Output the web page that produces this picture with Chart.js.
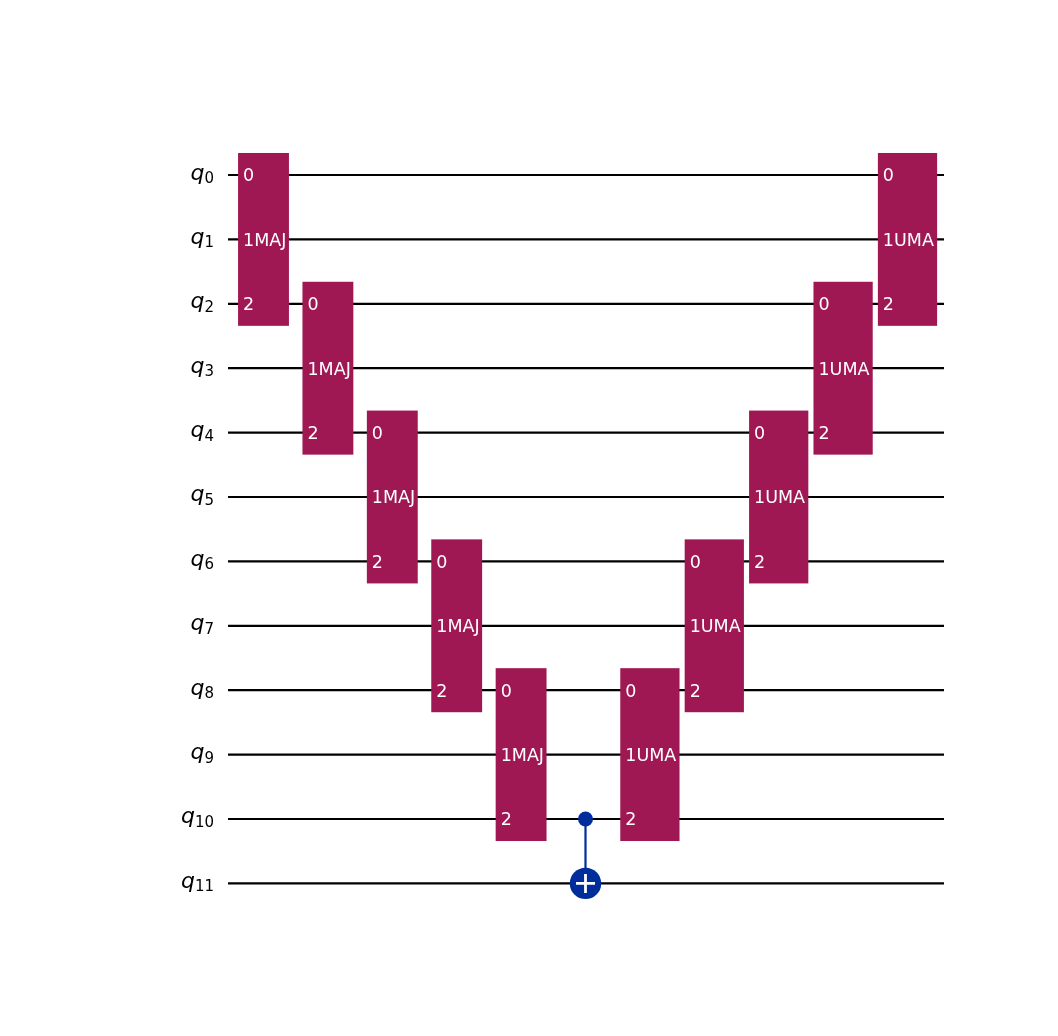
<!DOCTYPE html>
<html>
<head>
<meta charset="utf-8">
<script src="https://cdn.jsdelivr.net/npm/chart.js@4.4.0/dist/chart.umd.min.js"></script>
<style>
body { margin: 0; background: #fff; }
</style>
</head>
<body>
<canvas id="circuit" width="1058" height="1036"></canvas>
<script>
// circuit content
const qubitLabels = ['0', '1', '2', '3', '4', '5', '6', '7', '8', '9', '10', '11'];
const gateNames = ['MAJ', 'MAJ', 'MAJ', 'MAJ', 'MAJ', 'UMA', 'UMA', 'UMA', 'UMA', 'UMA'];
const gateColumns = [0, 1, 2, 3, 4, 6, 7, 8, 9, 10];
const gateFirstQubit = [0, 2, 4, 6, 8, 8, 6, 4, 2, 0];
const gatePorts = ['0', '1', '2'];
const cxColumn = 5;
const cxControl = 10;
const cxTarget = 11;

// look
const gateColor = '#9f1853';
const cxColor = '#002d9c';
const boxWidth = { MAJ: 0.79, UMA: 0.92 };
const boxPad = 0.342;
const wireStart = -0.551;
const wireEnd = 10.567;
const labelRight = -0.769;

const wireSets = qubitLabels.map((lbl, i) => ({
    data: [{ x: wireStart, y: i }, { x: wireEnd, y: i }],
    showLine: true,
    borderColor: '#000',
    borderWidth: 2.2,
    pointRadius: 0,
    order: 10
}));

const cxSets = [
    {
        data: [{ x: cxColumn, y: cxControl }, { x: cxColumn, y: cxTarget }],
        showLine: true,
        borderColor: cxColor,
        borderWidth: 2.2,
        pointRadius: 0,
        order: 5
    },
    {
        data: [{ x: cxColumn, y: cxControl }],
        pointRadius: 7.5,
        backgroundColor: cxColor,
        borderWidth: 0,
        order: 4
    },
    {
        data: [{ x: cxColumn, y: cxTarget }],
        pointRadius: 15.7,
        backgroundColor: cxColor,
        borderWidth: 0,
        order: 3
    },
    {
        data: [{ x: cxColumn, y: cxTarget }],
        pointStyle: 'cross',
        pointRadius: 9.5,
        borderColor: '#fff',
        borderWidth: 2.8,
        order: 1
    }
];

const circuitPlugin = {
    id: 'circuit',
    afterDatasetsDraw(chart) {
        const ctx = chart.ctx;
        const xs = chart.scales.x;
        const ys = chart.scales.y;
        ctx.save();

        // gate boxes
        gateNames.forEach((name, i) => {
            const col = gateColumns[i];
            const q = gateFirstQubit[i];
            const half = boxWidth[name] / 2;
            const left = xs.getPixelForValue(col - half);
            const right = xs.getPixelForValue(col + half);
            const top = ys.getPixelForValue(q - boxPad);
            const bottom = ys.getPixelForValue(q + 2 + boxPad);
            ctx.fillStyle = gateColor;
            ctx.fillRect(left, top, right - left, bottom - top);

            ctx.fillStyle = '#fff';
            ctx.font = '17.5px "DejaVu Sans"';
            ctx.textAlign = 'left';
            ctx.textBaseline = 'alphabetic';
            gatePorts.forEach((p, k) => {
                const y = ys.getPixelForValue(q + k) + 6.4;
                ctx.fillText(k === 1 ? p + name : p, left + 5, y);
            });
        });

        // qubit labels
        ctx.fillStyle = '#000';
        const rx = xs.getPixelForValue(labelRight);
        qubitLabels.forEach((sub, i) => {
            const y = ys.getPixelForValue(i);
            ctx.font = '15px "DejaVu Sans"';
            const subW = ctx.measureText(sub).width;
            ctx.font = 'italic 22px "DejaVu Sans"';
            const qW = ctx.measureText('q').width;
            const x0 = rx - subW - qW;
            ctx.fillText('q', x0, y + 4.5);
            ctx.font = '15px "DejaVu Sans"';
            ctx.fillText(sub, x0 + qW, y + 8);
        });

        ctx.restore();
    }
};

new Chart(document.getElementById('circuit'), {
    type: 'scatter',
    data: { datasets: wireSets.concat(cxSets) },
    options: {
        responsive: false,
        animation: false,
        events: [],
        layout: { padding: 0, autoPadding: false },
        plugins: {
            legend: { display: false },
            tooltip: { enabled: false }
        },
        scales: {
            x: { type: 'linear', min: -4.0916, max: 12.3370, display: false },
            y: { type: 'linear', reverse: true, min: -2.7174, max: 13.3696, display: false }
        }
    },
    plugins: [circuitPlugin]
});
</script>
</body>
</html>
